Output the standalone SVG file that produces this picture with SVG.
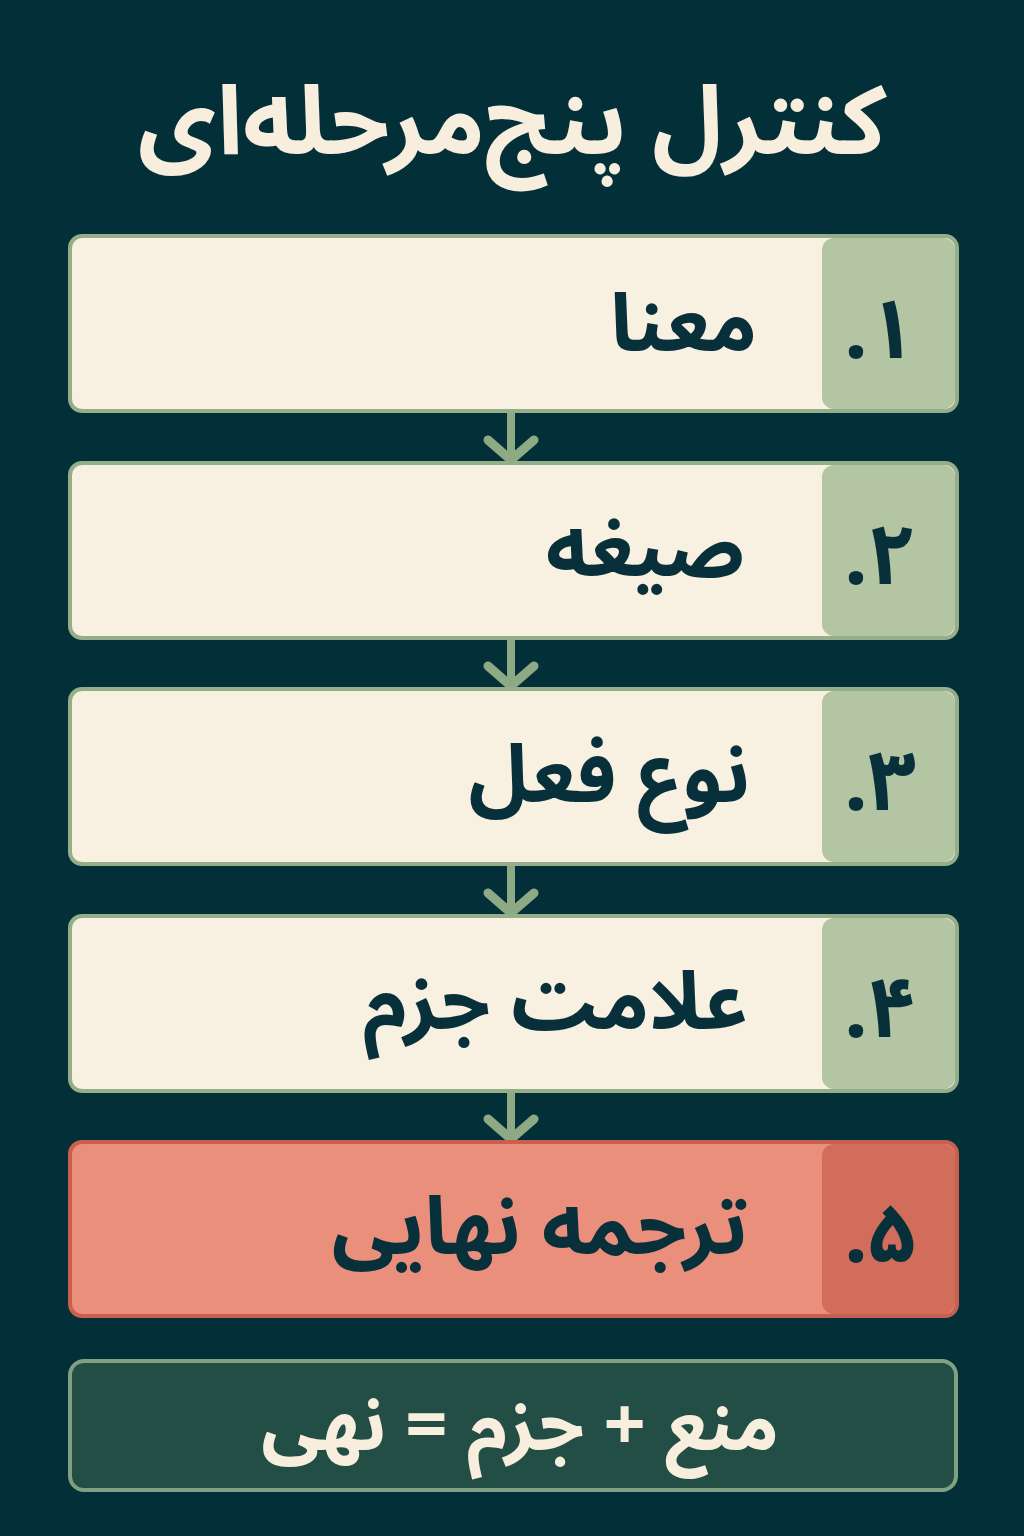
<svg xmlns="http://www.w3.org/2000/svg" width="1024" height="1536" viewBox="0 0 1024 1536">
<style>
.bg{fill:#022f38}
.box{fill:#f8f0e0;stroke:#93ae89;stroke-width:4}
.tab{fill:#b3c5a3}
.box5{fill:#e98f7c;stroke:#c9604f;stroke-width:4}
.tab5{fill:#d36d5b}
.sum{fill:#234e45;stroke:#80a17f;stroke-width:4}
.t{font-family:"Noto Sans Arabic","Vazirmatn","DejaVu Sans",sans-serif;font-weight:bold;direction:rtl}
.lbl{font-size:80px;fill:#08303a;text-anchor:start}
.num{font-size:84px;fill:#08303a;text-anchor:middle}
.title{font-size:96px;fill:#f7eedd;text-anchor:middle}
.sumt{font-size:74px;fill:#f7eedd;text-anchor:middle}
.conn line{stroke:#8eaa85;stroke-width:8;stroke-linecap:round}
.conn path{fill:none;stroke:#8eaa85;stroke-width:9;stroke-linecap:round;stroke-linejoin:round}
</style>
<rect class="bg" x="0" y="0" width="1024" height="1536"/>
<g id="title"><text class="t title" x="512" y="154">کنترل پنج‌مرحله‌ای</text></g>
<g id="connectors" class="conn">
<line x1="511" y1="413" x2="511" y2="458"/><path d="M488 440 L511 460 L534 440"/>
<line x1="511" y1="640" x2="511" y2="684"/><path d="M488 666 L511 686 L534 666"/>
<line x1="511" y1="866" x2="511" y2="911"/><path d="M488 893 L511 913 L534 893"/>
<line x1="511" y1="1093" x2="511" y2="1137"/><path d="M488 1119 L511 1139 L534 1119"/>
</g>
<g id="step1">
<rect class="box" x="70" y="236" width="887" height="175" rx="12"/>
<path class="tab" d="M834 238 H943 a12 12 0 0 1 12 12 V397 a12 12 0 0 1 -12 12 H834 a12 12 0 0 1 -12 -12 V250 a12 12 0 0 1 12 -12z"/>
<text class="t lbl" x="757" y="351">معنا</text>
<text class="t num" x="880" y="358">۱.</text>
</g>
<g id="step2">
<rect class="box" x="70" y="463" width="887" height="175" rx="12"/>
<path class="tab" d="M834 465 H943 a12 12 0 0 1 12 12 V624 a12 12 0 0 1 -12 12 H834 a12 12 0 0 1 -12 -12 V477 a12 12 0 0 1 12 -12z"/>
<text class="t lbl" x="745" y="576">صیغه</text>
<text class="t num" x="880" y="584">۲.</text>
</g>
<g id="step3">
<rect class="box" x="70" y="689" width="887" height="175" rx="12"/>
<path class="tab" d="M834 691 H943 a12 12 0 0 1 12 12 V850 a12 12 0 0 1 -12 12 H834 a12 12 0 0 1 -12 -12 V703 a12 12 0 0 1 12 -12z"/>
<text class="t lbl" x="750" y="802">نوع فعل</text>
<text class="t num" x="880" y="810">۳.</text>
</g>
<g id="step4">
<rect class="box" x="70" y="916" width="887" height="175" rx="12"/>
<path class="tab" d="M834 918 H943 a12 12 0 0 1 12 12 V1077 a12 12 0 0 1 -12 12 H834 a12 12 0 0 1 -12 -12 V930 a12 12 0 0 1 12 -12z"/>
<text class="t lbl" x="748" y="1029">علامت جزم</text>
<text class="t num" x="880" y="1037">۴.</text>
</g>
<g id="step5">
<rect class="box5" x="70" y="1142" width="887" height="174" rx="12"/>
<path class="tab5" d="M834 1144 H943 a12 12 0 0 1 12 12 V1302 a12 12 0 0 1 -12 12 H834 a12 12 0 0 1 -12 -12 V1156 a12 12 0 0 1 12 -12z"/>
<text class="t lbl" x="748" y="1254">ترجمه نهایی</text>
<text class="t num" x="880" y="1262">۵.</text>
</g>
<g id="summary">
<rect class="sum" x="70" y="1361" width="886" height="129" rx="14"/>
<text class="t sumt" x="520" y="1450">منع + جزم = نهی</text>
</g>
</svg>
